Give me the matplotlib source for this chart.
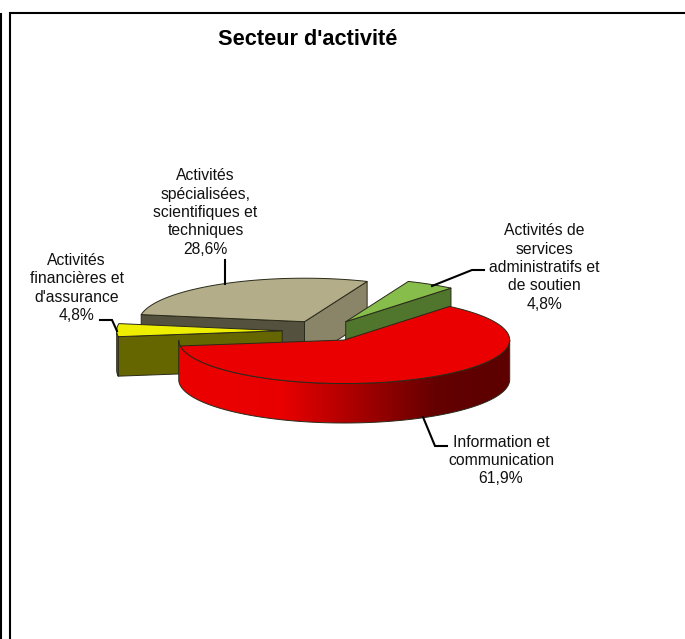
import numpy as np
import matplotlib
matplotlib.use("Agg")
import matplotlib.pyplot as plt
from matplotlib.patches import Polygon
from matplotlib.colors import LinearSegmentedColormap

title = "Secteur d'activité"
categories = ["Information et\ncommunication", "Activités\nfinancières et\nd'assurance",
              "Activités\nspécialisées,\nscientifiques et\ntechniques",
              "Activités de\nservices\nadministratifs et\nde soutien"]
shares = [61.9, 4.8, 28.6, 4.8]
share_labels = ["61,9%", "4,8%", "28,6%", "4,8%"]

top_colors = ["#ea0000", "#eeee00", "#b3ad8a", "#86bd4b"]
wall_colors = [None, "#666600", "#55513f", "#4f762c"]
right_wall = "#8a8468"
edge = "#2a2a1a"

W, H = 685, 639
plt.rcParams["font.family"] = ["Liberation Sans", "DejaVu Sans"]
fig = plt.figure(figsize=(W / 100, H / 100), dpi=100)
ax = fig.add_axes([0, 0, 1, 1])
ax.set_axis_off()

RX, RY, DEPTH = 165.5, 43.5, 39.5
START = 50.5
apexes = [(344.2, 340.0), (282.2, 330.7), (304.5, 321.7), (345.7, 321.7)]

fractions = np.array(shares) / np.sum(shares)
ends = START - np.cumsum(fractions) * 360
starts = np.r_[START, ends[:-1]]


def pt(c, t, dz=0.0):
    t = np.radians(t)
    return np.c_[c[0] + RX * np.cos(t), c[1] - RY * np.sin(t) + dz]


def arc(c, a, b, dz=0.0, n=120):
    return pt(c, np.linspace(a, b, n), dz)


def wall(c, t):
    tip = pt(c, np.array([t]))[0]
    return np.array([c, tip, tip + [0, DEPTH], [c[0], c[1] + DEPTH]])


def top(c, a, b):
    return np.vstack([[c], arc(c, a, b)])


def poly(points, color, z):
    p = Polygon(points, closed=True, facecolor=color, edgecolor=edge, lw=0.7, joinstyle="round", zorder=z)
    ax.add_patch(p)
    return p


# Beige slice (index 2): both cut walls, then the top
c = apexes[2]
poly(wall(c, starts[2]), wall_colors[2], 2)
poly(wall(c, ends[2]), right_wall, 2)
poly(top(c, starts[2], ends[2]), top_colors[2], 3)

# Green slice (index 3)
c = apexes[3]
poly(wall(c, ends[3]), wall_colors[3], 4)
poly(top(c, starts[3], ends[3]), top_colors[3], 5)

# Yellow slice (index 1)
c = apexes[1]
poly(wall(c, starts[1]), wall_colors[1], 6)
rim = arc(c, starts[1], -180.0)
poly(np.vstack([rim, rim[::-1] + [0, DEPTH]]), wall_colors[1], 6)
poly(top(c, starts[1], ends[1]), top_colors[1], 7)

# Red slice (index 0): rim with a horizontal gradient, then the top
c = apexes[0]
rim_top = arc(c, -180.0, 0.0)
rim_poly = np.vstack([rim_top, rim_top[::-1] + [0, DEPTH]])
clip = Polygon(rim_poly, closed=True, facecolor="none", edgecolor=edge, lw=0.7, zorder=9)
ax.add_patch(clip)
cmap = LinearSegmentedColormap.from_list(
    "rim", [(0, "#ec0000"), (0.31, "#e80000"), (0.78, "#640000"), (1, "#5c0000")])
img = ax.imshow(np.linspace(0, 1, 330)[None, :], cmap=cmap, aspect="auto", zorder=8, vmin=0, vmax=1,
                extent=(c[0] - RX, c[0] + RX, c[1] + RY + DEPTH + 2, c[1] - 2))
img.set_clip_path(clip)
poly(top(c, starts[0], ends[0]), top_colors[0], 10)

# Leader lines
leaders = [
    [(423, 417), (435, 446), (447, 446)],
    [(117, 331), (112, 320), (100, 320)],
    [(225.5, 284), (225.5, 260)],
    [(432, 286), (472, 270), (484, 270)],
]
for pts in leaders:
    xs, ys = zip(*pts)
    ax.plot(xs, ys, color="black", lw=1.5, zorder=11, solid_joinstyle="miter")

# Labels
positions = [(501, 460.5), (76.7, 288), (205.5, 212.5), (544.5, 267.5)]
for name, pct, (x, y) in zip(categories, share_labels, positions):
    ax.text(x, y, name + "\n" + pct, ha="center", va="center", fontsize=11.3,
            linespacing=1.29, color="#111111", zorder=12)

ax.text(307.5, 39.5, title, ha="center", va="center", fontsize=15.7, fontweight="bold", color="black")

# Page frame
for xs, ys in [((0.8, 0.8), (13, H)), ((10, 10), (12, H)), ((9, W), (13, 13))]:
    ax.plot(xs, ys, color="black", lw=1.5, solid_capstyle="butt", zorder=1)

ax.set_xlim(0, W)
ax.set_ylim(H, 0)
fig.savefig("out.png", dpi=100, facecolor="white")
